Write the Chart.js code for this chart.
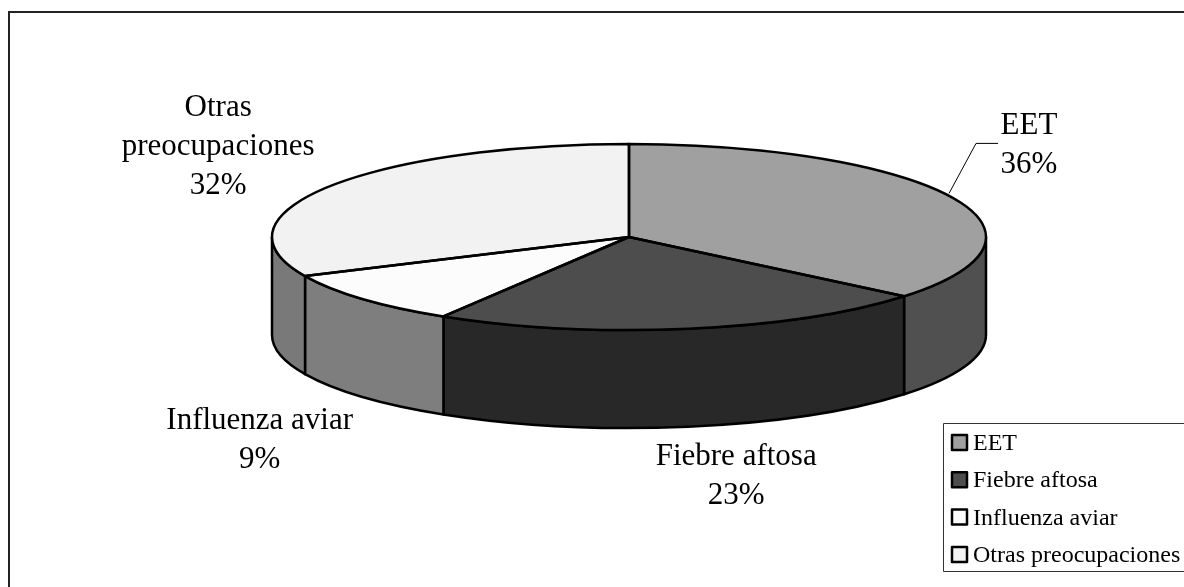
<!DOCTYPE html>
<html>
<head>
<meta charset="utf-8">
<style>
  html, body { margin: 0; padding: 0; background: #fff; }
  #wrap { position: relative; width: 1184px; height: 587px; }
</style>
</head>
<body>
<div id="wrap"><canvas id="pieChart" width="1184" height="587"></canvas></div>
<script src="https://cdn.jsdelivr.net/npm/chart.js@4"></script>
<script>
const categories = ["EET", "Fiebre aftosa", "Influenza aviar", "Otras preocupaciones"];
const shares = [36, 22.7, 9.4, 31.9];
const topColors = ["#a0a0a0", "#4d4d4d", "#fcfcfc", "#f2f2f2"];
const sideColors = ["#505050", "#282828", "#7e7e7e", "#797979"];
// label lines as drawn, and where the first baseline sits relative to the slice's rim point
const labelLines = [["EET"], ["Fiebre aftosa"], ["Influenza aviar"], ["Otras", "preocupaciones"]];
const labelOffsets = [[77, -63], [48, 136], [-103, 130], [-110, -71]];

const FONT = '"Liberation Serif", "Times New Roman", serif';
const ROUND_W = 357;   // half width of the squashed pie
const DEPTH = 98;
const LEGEND_BOX = { x: 943, y: 423, right: 1190, bottom: 571 };

// The chart area is only as tall as the squashed pie, so the library's radius is
// the vertical one. The x direction gets stretched when the slices are painted.
function stretch(chart) {
  const arc = chart.getDatasetMeta(0).data[0];
  return ROUND_W / arc.outerRadius;
}

function tracePie(ctx, arc, sx) {
  ctx.beginPath();
  ctx.moveTo(arc.x, arc.y);
  ctx.ellipse(arc.x, arc.y, arc.outerRadius * sx, arc.outerRadius, 0, arc.startAngle, arc.endAngle);
  ctx.closePath();
}

const pie3d = {
  id: "pie3d",
  beforeDraw(chart) {
    const ctx = chart.ctx;
    ctx.save();
    ctx.strokeStyle = "#222";
    ctx.lineWidth = 2;
    ctx.strokeRect(9, 12, 1300, 700);  // frame runs off the page on the right and bottom
    ctx.restore();
  },
  beforeDatasetsDraw(chart) {
    const ctx = chart.ctx;
    const sx = stretch(chart);
    ctx.save();
    ctx.lineWidth = 2.5;
    ctx.strokeStyle = "#000";
    ctx.lineJoin = "round";
    chart.getDatasetMeta(0).data.forEach((arc, i) => {
      // only the part of the rim facing the viewer has a wall
      const a0 = Math.max(arc.startAngle, 0);
      const a1 = Math.min(arc.endAngle, Math.PI);
      if (a1 <= a0) return;
      const rx = arc.outerRadius * sx, ry = arc.outerRadius;
      ctx.beginPath();
      ctx.ellipse(arc.x, arc.y, rx, ry, 0, a0, a1);
      ctx.ellipse(arc.x, arc.y + DEPTH, rx, ry, 0, a1, a0, true);
      ctx.closePath();
      ctx.fillStyle = sideColors[i];
      ctx.fill();
      ctx.stroke();
    });
    ctx.restore();
  },
  beforeDatasetDraw(chart) {
    const ctx = chart.ctx;
    const arc = chart.getDatasetMeta(0).data[0];
    ctx.save();
    ctx.translate(arc.x, arc.y);
    ctx.scale(stretch(chart), 1);
    ctx.translate(-arc.x, -arc.y);
  },
  afterDatasetDraw(chart) {
    chart.ctx.restore();
  },
  afterDatasetsDraw(chart) {
    const ctx = chart.ctx;
    const sx = stretch(chart);
    const arcs = chart.getDatasetMeta(0).data;
    ctx.save();
    ctx.lineWidth = 2.5;
    ctx.strokeStyle = "#000";
    ctx.lineJoin = "round";
    arcs.forEach(arc => { tracePie(ctx, arc, sx); ctx.stroke(); });

    // slice labels hang off the rim point at the middle of each slice
    ctx.fillStyle = "#000";
    ctx.textAlign = "center";
    ctx.textBaseline = "alphabetic";
    ctx.font = "31px " + FONT;
    arcs.forEach((arc, i) => {
      const mid = (arc.startAngle + arc.endAngle) / 2;
      const px = arc.x + Math.cos(mid) * arc.outerRadius * sx;
      const py = arc.y + Math.sin(mid) * arc.outerRadius;
      const lines = labelLines[i].concat(Math.round(shares[i]) + "%");
      const lx = px + labelOffsets[i][0];
      const ly = py + labelOffsets[i][1];
      lines.forEach((t, n) => ctx.fillText(t, lx, ly + n * 39));
      if (i === 0) {
        // leader line for the first slice only
        ctx.lineWidth = 1;
        ctx.beginPath();
        ctx.moveTo(px - 3, py - 4);
        ctx.lineTo(px + 24, py - 54);
        ctx.lineTo(px + 46, py - 54);
        ctx.stroke();
        ctx.lineWidth = 2.5;
      }
    });

    // legend
    const b = LEGEND_BOX;
    ctx.fillStyle = "#fff";
    ctx.fillRect(b.x, b.y, b.right - b.x, b.bottom - b.y);
    ctx.lineWidth = 1;
    ctx.strokeStyle = "#333";
    ctx.strokeRect(b.x + 0.5, b.y + 0.5, b.right - b.x, b.bottom - b.y);
    ctx.textAlign = "left";
    ctx.font = "24px " + FONT;
    categories.forEach((name, i) => {
      const y = b.y + 12 + i * 37.3;
      ctx.fillStyle = topColors[i];
      ctx.fillRect(b.x + 9, y, 15, 15);
      ctx.strokeStyle = "#000";
      ctx.lineWidth = 2.5;
      ctx.strokeRect(b.x + 9, y, 15, 15);
      ctx.fillStyle = "#000";
      ctx.fillText(name, b.x + 30, y + 15);
    });
    ctx.restore();
  }
};

new Chart(document.getElementById("pieChart"), {
  type: "pie",
  data: {
    labels: categories,
    datasets: [{
      data: shares,
      backgroundColor: topColors,
      borderWidth: 0
    }]
  },
  options: {
    responsive: false,
    animation: false,
    layout: { padding: { left: 272, right: 198, top: 144, bottom: 257 } },
    plugins: {
      legend: { display: false },
      tooltip: { enabled: false }
    }
  },
  plugins: [pie3d]
});
</script>
</body>
</html>
